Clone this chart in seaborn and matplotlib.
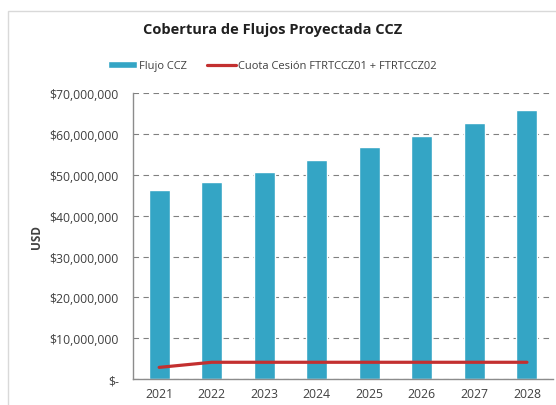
import pandas as pd
import seaborn as sns
import matplotlib.pyplot as plt
from matplotlib.ticker import FuncFormatter
from matplotlib.patches import Patch, Rectangle
from matplotlib.lines import Line2D

years = ['2021', '2022', '2023', '2024', '2025', '2026', '2027', '2028']
flujo_ccz = [46.3e6, 48.2e6, 50.6e6, 53.7e6, 56.8e6, 59.5e6, 62.7e6, 65.8e6]
cuota_cesion = [2.85e6, 4.1e6, 4.1e6, 4.1e6, 4.1e6, 4.1e6, 4.1e6, 4.1e6]

bar_color = '#34A5C5'
line_color = '#C33030'

df = pd.DataFrame({'year': years, 'flujo': flujo_ccz, 'cuota': cuota_cesion})

sns.set_style('white')
plt.rcParams['font.family'] = ['Open Sans', 'DejaVu Sans']

fig = plt.figure(figsize=(5.56, 4.06), dpi=100)
ax = fig.add_axes([0.239, 0.064, 0.756, 0.704])

sns.barplot(data=df, x='year', y='flujo', color=bar_color, width=0.4,
            saturation=1, ax=ax)
sns.pointplot(data=df, x='year', y='cuota', color=line_color, markers='',
              linewidth=2.3, ax=ax)

ax.set_ylim(0, 70e6)
ax.set_yticks(range(0, 70000001, 10000000))
ax.yaxis.set_major_formatter(FuncFormatter(
    lambda v, p: '$-' if v == 0 else '${:,.0f}'.format(v)))
ax.yaxis.grid(True, linestyle=(0, (5, 4)), color='#808080', linewidth=0.8)
ax.set_axisbelow(True)
for s in ['top', 'right']:
    ax.spines[s].set_visible(False)
for s in ['left', 'bottom']:
    ax.spines[s].set_color('#8c8c8c')
    ax.spines[s].set_linewidth(1)
ax.tick_params(axis='both', labelsize=8.8, colors='#404040', length=0, pad=6)
ax.tick_params(axis='y', pad=10)
ax.set_xlabel('')
ax.set_ylabel('USD', fontsize=8.5, fontweight='bold', color='#404040', labelpad=5)

fig.text(0.49, 0.926, 'Cobertura de Flujos Proyectada CCZ', ha='center',
         va='center', fontsize=10.5, fontweight='bold', color='#202020')

handles = [Patch(facecolor=bar_color, label='Flujo CCZ'),
           Line2D([0], [0], color=line_color, lw=2.3,
                  label='Cuota Cesión FTRTCCZ01 + FTRTCCZ02')]
fig.legend(handles=handles, loc='center', bbox_to_anchor=(0.49, 0.835), ncol=2,
           frameon=False, fontsize=8, handlelength=2.6, handleheight=0.5,
           columnspacing=1.8, handletextpad=0.2, labelcolor='#404040')

fig.patches.append(Rectangle((0.014, -0.1), 1.2, 1.07, transform=fig.transFigure,
                             fill=False, edgecolor='#d9d9d9', linewidth=1))

fig.savefig('out.png', dpi=100)
